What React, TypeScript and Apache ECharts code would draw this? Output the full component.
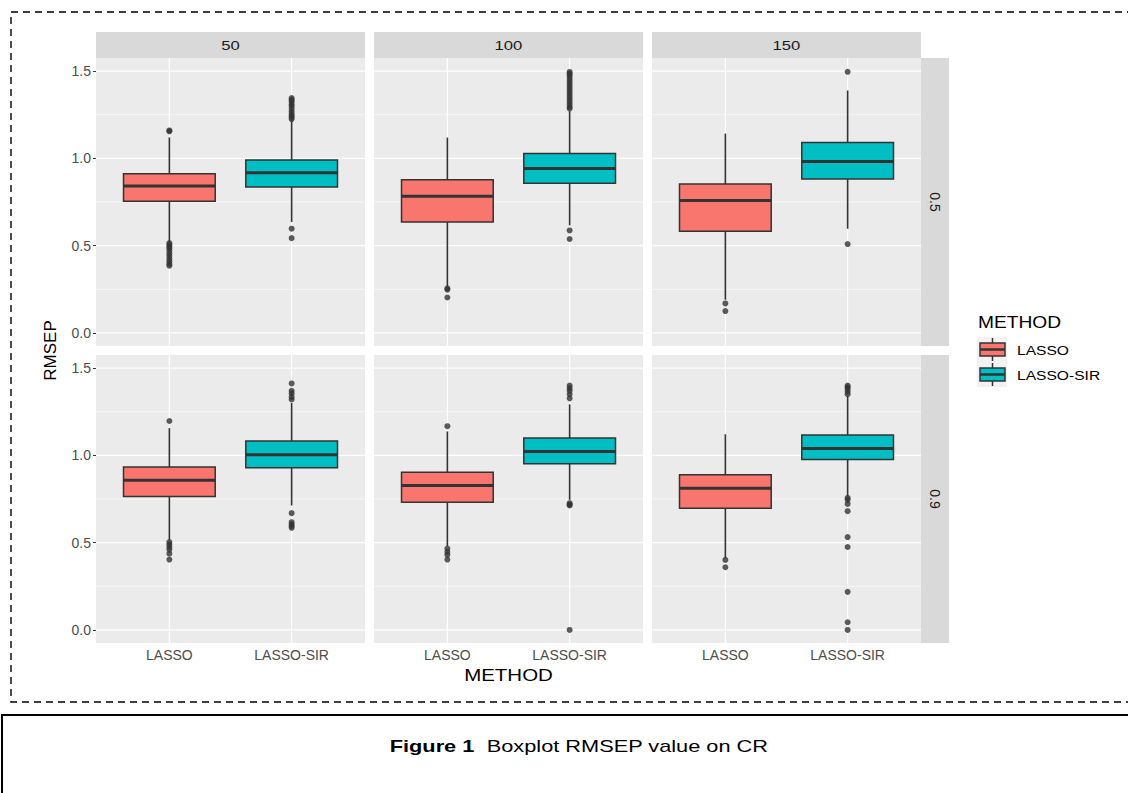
import React, { useEffect, useRef } from 'react';
import * as echarts from 'echarts';

// ---------- data ----------
const colFacets = ['50', '100', '150'];
const rowFacets = ['0.5', '0.9'];
const methods = ['LASSO', 'LASSO-SIR'];
const methodColors = ['#F8766D', '#00BFC4'];
const yTicks = [0, 0.5, 1.0, 1.5];
const yMinorTicks = [0.25, 0.75, 1.25];
const xTicks = [1, 2];
const yTitle = 'RMSEP';
const xTitle = 'METHOD';
const legendTitle = 'METHOD';

// [lower whisker, Q1, median, Q3, upper whisker]
// panel order: row 0.5 (50, 100, 150), row 0.9 (50, 100, 150)
const lassoBoxes = [
  [0.52, 0.754, 0.842, 0.912, 1.12],
  [0.265, 0.635, 0.783, 0.878, 1.119],
  [0.19, 0.582, 0.758, 0.853, 1.142],
  [0.515, 0.764, 0.857, 0.933, 1.156],
  [0.48, 0.732, 0.827, 0.903, 1.137],
  [0.41, 0.697, 0.811, 0.889, 1.121],
];
const sirBoxes = [
  [0.635, 0.836, 0.918, 0.99, 1.22],
  [0.616, 0.857, 0.942, 1.028, 1.27],
  [0.597, 0.882, 0.982, 1.091, 1.389],
  [0.713, 0.929, 1.003, 1.083, 1.3],
  [0.745, 0.952, 1.022, 1.099, 1.292],
  [0.764, 0.977, 1.04, 1.116, 1.34],
];
const lassoOutliers = [
  [1.16, 1.155, 0.515, 0.505, 0.495, 0.485, 0.47, 0.455, 0.44, 0.425, 0.41, 0.395, 0.385],
  [0.255, 0.248, 0.203],
  [0.169, 0.125],
  [1.197, 0.503, 0.49, 0.475, 0.46, 0.437, 0.403],
  [1.167, 0.466, 0.447, 0.43, 0.403],
  [0.401, 0.359],
];
const sirOutliers = [
  [1.345, 1.335, 1.325, 1.31, 1.3, 1.285, 1.27, 1.255, 1.245, 1.235, 1.225, 0.597, 0.543],
  [1.495, 1.485, 1.475, 1.46, 1.445, 1.43, 1.415, 1.4, 1.385, 1.37, 1.355, 1.34, 1.325, 1.31, 1.295, 1.285, 0.587, 0.538],
  [1.496, 0.509],
  [1.412, 1.37, 1.355, 1.335, 1.32, 0.669, 0.617, 0.605, 0.595, 0.585],
  [1.4, 1.385, 1.37, 1.35, 1.327, 0.726, 0.718, 0.713, 0.0],
  [1.4, 1.39, 1.38, 1.365, 1.35, 0.756, 0.745, 0.722, 0.68, 0.532, 0.475, 0.218, 0.044, 0.0],
];

// ---------- layout ----------
const FONT = '"Liberation Sans", Arial, Helvetica, sans-serif';
const X_MIN = 0.4;
const X_MAX = 2.6;
const Y_MIN = -0.075;
const Y_MAX = 1.575;
const PANEL_LEFT = 96;
const PANEL_W = 269;
const PANEL_GAP = 9;
const ROW_TOP = [58, 355];
const PANEL_H = 288;
const STRIP_TOP = 32;
const STRIP_H = 26;
const STRIP_R_W = 28;
const SX = 1.28; // horizontal stretch of the reference texts
const SX_LEGEND = 1.2;

function buildOption() {
  const grid: any[] = [];
  const xAxis: any[] = [];
  const yAxis: any[] = [];
  const series: any[] = [];
  const graphic: any[] = [];

  rowFacets.forEach((rowLabel, r) => {
    colFacets.forEach((colLabel, c) => {
      const i = r * colFacets.length + c;
      const left = PANEL_LEFT + c * (PANEL_W + PANEL_GAP);
      grid.push({
        left,
        top: ROW_TOP[r],
        width: PANEL_W,
        height: PANEL_H,
        show: true,
        backgroundColor: '#EBEBEB',
        borderWidth: 0,
        containLabel: false,
      });
      xAxis.push({
        gridIndex: i,
        type: 'value',
        min: X_MIN,
        max: X_MAX,
        splitLine: { show: false },
        axisLine: { show: false },
        axisTick: {
          show: r === rowFacets.length - 1,
          length: 3,
          customValues: xTicks,
          lineStyle: { color: '#333333', width: 1 },
        },
        axisLabel: {
          show: r === rowFacets.length - 1,
          customValues: xTicks,
          formatter: (v: number) => methods[Math.round(v) - 1] ?? '',
          color: '#4D4D4D',
          fontSize: 14,
          fontFamily: FONT,
          margin: 5,
        },
      });
      yAxis.push({
        gridIndex: i,
        type: 'value',
        min: Y_MIN,
        max: Y_MAX,
        splitLine: { show: false },
        axisLine: { show: false },
        axisTick: {
          show: c === 0,
          length: 3,
          customValues: yTicks,
          lineStyle: { color: '#333333', width: 1 },
        },
        axisLabel: {
          show: c === 0,
          customValues: yTicks,
          formatter: (v: number) => v.toFixed(1),
          color: '#4D4D4D',
          fontSize: 14,
          fontFamily: FONT,
          margin: 5,
        },
      });

      // grid lines (through the panel scales)
      const gridData = [
        ...yTicks.map((v) => [0, v, 1]),
        ...yMinorTicks.map((v) => [0, v, 0]),
        ...xTicks.map((v) => [1, v, 1]),
      ];
      series.push({
        type: 'custom',
        xAxisIndex: i,
        yAxisIndex: i,
        silent: true,
        z: 1,
        data: gridData,
        encode: { x: -1, y: -1 },
        renderItem: (params: any, api: any) => {
          const o = api.value(0);
          const v = api.value(1);
          const major = api.value(2);
          const p1 = o === 0 ? api.coord([X_MIN, v]) : api.coord([v, Y_MIN]);
          const p2 = o === 0 ? api.coord([X_MAX, v]) : api.coord([v, Y_MAX]);
          return {
            type: 'line',
            shape: { x1: p1[0], y1: p1[1], x2: p2[0], y2: p2[1] },
            style: { stroke: '#FFFFFF', lineWidth: major ? 1.2 : 0.6 },
          };
        },
      });

      // boxes
      const boxData = [
        [1, ...lassoBoxes[i]],
        [2, ...sirBoxes[i]],
      ];
      series.push({
        type: 'custom',
        name: `box-${rowLabel}-${colLabel}`,
        xAxisIndex: i,
        yAxisIndex: i,
        z: 2,
        data: boxData,
        encode: { x: 0, y: [1, 2, 3, 4, 5] },
        renderItem: (params: any, api: any) => {
          const x = api.value(0);
          const lo = api.coord([x, api.value(1)]);
          const q1 = api.coord([x, api.value(2)]);
          const med = api.coord([x, api.value(3)]);
          const q3 = api.coord([x, api.value(4)]);
          const hi = api.coord([x, api.value(5)]);
          const w = api.size([0.75, 0])[0];
          const cx = lo[0];
          const color = methodColors[Math.round(x) - 1];
          const stroke = '#333333';
          return {
            type: 'group',
            children: [
              { type: 'line', shape: { x1: cx, y1: q3[1], x2: cx, y2: hi[1] }, style: { stroke, lineWidth: 1.6 } },
              { type: 'line', shape: { x1: cx, y1: q1[1], x2: cx, y2: lo[1] }, style: { stroke, lineWidth: 1.6 } },
              {
                type: 'rect',
                shape: { x: cx - w / 2, y: q3[1], width: w, height: q1[1] - q3[1] },
                style: { fill: color, stroke, lineWidth: 1.5 },
              },
              { type: 'line', shape: { x1: cx - w / 2, y1: med[1], x2: cx + w / 2, y2: med[1] }, style: { stroke, lineWidth: 3 } },
            ],
          };
        },
      });

      // outliers
      series.push({
        type: 'scatter',
        xAxisIndex: i,
        yAxisIndex: i,
        z: 3,
        symbol: 'circle',
        symbolSize: 6,
        itemStyle: { color: '#333333' },
        data: [...lassoOutliers[i].map((v) => [1, v]), ...sirOutliers[i].map((v) => [2, v])],
      });

      // column strip (top row only)
      if (r === 0) {
        graphic.push({
          type: 'rect',
          shape: { x: left, y: STRIP_TOP, width: PANEL_W, height: STRIP_H },
          style: { fill: '#D9D9D9' },
          silent: true,
        });
        graphic.push({
          type: 'text',
          x: left + PANEL_W / 2,
          y: STRIP_TOP + STRIP_H / 2,
          scaleX: SX,
          style: { text: colLabel, fill: '#1A1A1A', font: `13px ${FONT}`, align: 'center', verticalAlign: 'middle' },
        });
      }
    });

    // row strip
    const stripX = PANEL_LEFT + colFacets.length * PANEL_W + (colFacets.length - 1) * PANEL_GAP;
    graphic.push({
      type: 'rect',
      shape: { x: stripX, y: ROW_TOP[r], width: STRIP_R_W, height: PANEL_H },
      style: { fill: '#D9D9D9' },
      silent: true,
    });
    graphic.push({
      type: 'text',
      x: stripX + STRIP_R_W / 2,
      y: ROW_TOP[r] + PANEL_H / 2,
      rotation: -Math.PI / 2,
      style: { text: rowLabel, fill: '#1A1A1A', font: `14px ${FONT}`, align: 'center', verticalAlign: 'middle' },
    });
  });

  // axis titles
  graphic.push({
    type: 'text',
    x: 50,
    y: (ROW_TOP[0] + ROW_TOP[1] + PANEL_H) / 2,
    rotation: Math.PI / 2,
    style: { text: yTitle, fill: '#000000', font: `17px ${FONT}`, align: 'center', verticalAlign: 'middle' },
  });
  graphic.push({
    type: 'text',
    x: PANEL_LEFT + (colFacets.length * PANEL_W + (colFacets.length - 1) * PANEL_GAP) / 2,
    y: 675,
    scaleX: SX,
    style: { text: xTitle, fill: '#000000', font: `16px ${FONT}`, align: 'center', verticalAlign: 'middle' },
  });

  // legend
  graphic.push({
    type: 'text',
    x: 978,
    y: 323,
    scaleX: SX_LEGEND,
    style: { text: legendTitle, fill: '#000000', font: `16px ${FONT}`, align: 'left', verticalAlign: 'middle' },
  });
  methods.forEach((m, k) => {
    const ky = 337 + k * 25;
    const cx = 992.5;
    graphic.push({ type: 'rect', shape: { x: 977, y: ky, width: 30, height: 25 }, style: { fill: '#F2F2F2' }, silent: true });
    graphic.push({ type: 'line', shape: { x1: cx, y1: ky + 1, x2: cx, y2: ky + 24 }, style: { stroke: '#333333', lineWidth: 1.5 } });
    graphic.push({
      type: 'rect',
      shape: { x: 980, y: ky + 6, width: 25, height: 13 },
      style: { fill: methodColors[k], stroke: '#333333', lineWidth: 1.5 },
    });
    graphic.push({ type: 'line', shape: { x1: 980, y1: ky + 12.5, x2: 1005, y2: ky + 12.5 }, style: { stroke: '#333333', lineWidth: 2.5 } });
    graphic.push({
      type: 'text',
      x: 1017,
      y: ky + 13,
      scaleX: SX_LEGEND,
      style: { text: m, fill: '#000000', font: `13px ${FONT}`, align: 'left', verticalAlign: 'middle' },
    });
  });

  // dashed frame around the figure
  graphic.push({
    type: 'rect',
    shape: { x: 11, y: 12, width: 1140, height: 690 },
    style: { fill: 'none', stroke: '#000000', lineWidth: 1.4, lineDash: [7, 5] },
    silent: true,
  });
  // caption box
  graphic.push({
    type: 'rect',
    shape: { x: 2, y: 715, width: 1140, height: 100 },
    style: { fill: 'none', stroke: '#000000', lineWidth: 2 },
    silent: true,
  });
  graphic.push({
    type: 'text',
    x: 579,
    y: 746,
    scaleX: SX,
    style: {
      text: '{b|Figure 1}  Boxplot RMSEP value on CR',
      fill: '#000000',
      font: `17px ${FONT}`,
      align: 'center',
      verticalAlign: 'middle',
      rich: { b: { fontWeight: 'bold', fontSize: 17, fontFamily: FONT, fill: '#000000' } },
    },
  });

  return {
    animation: false,
    backgroundColor: '#FFFFFF',
    grid,
    xAxis,
    yAxis,
    series,
    graphic,
  };
}

export default function App() {
  const ref = useRef<HTMLDivElement>(null);
  useEffect(() => {
    if (!ref.current) return;
    const chart = echarts.init(ref.current, null, { renderer: 'svg' });
    chart.setOption(buildOption() as any);
    return () => chart.dispose();
  }, []);
  return <div ref={ref} style={{ position: 'absolute', left: 0, top: 0, width: 1128, height: 793 }} />;
}
